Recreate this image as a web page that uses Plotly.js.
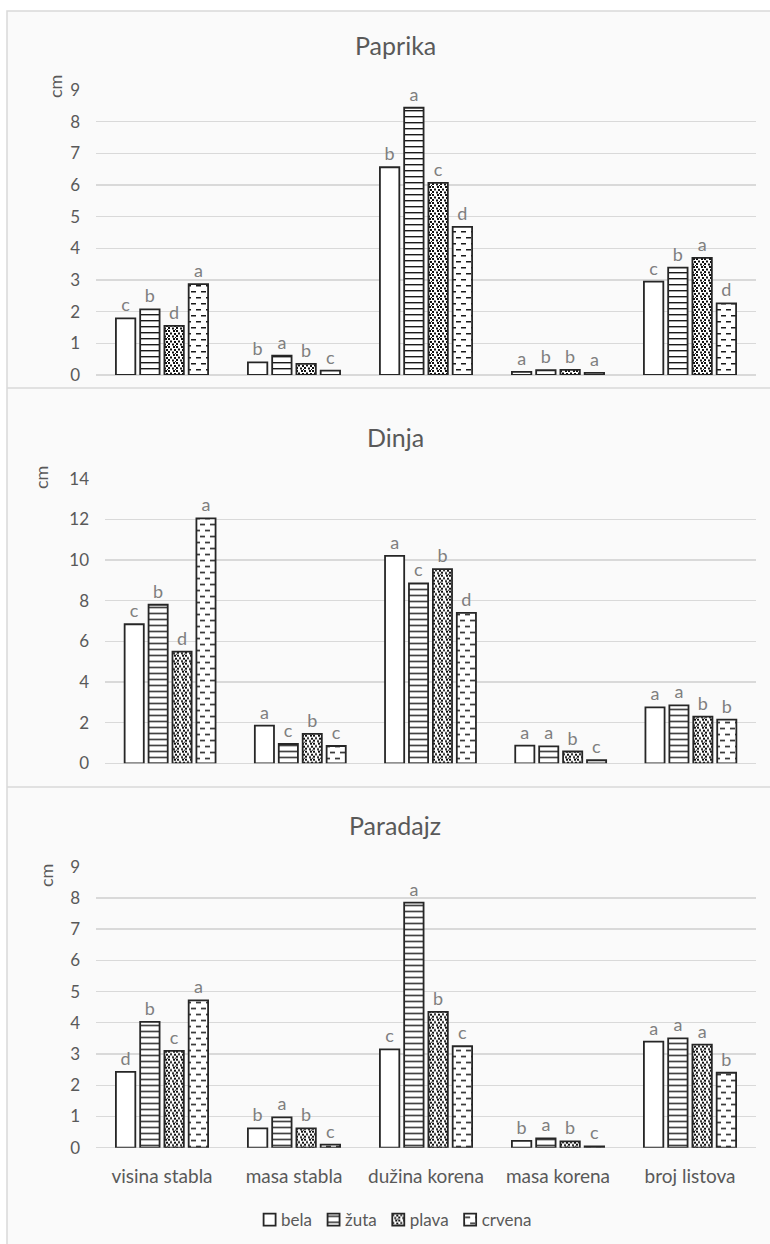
<!DOCTYPE html>
<html>
<head>
<meta charset="utf-8">
<script src="https://cdn.plot.ly/plotly-3.0.1.min.js"></script>
<style>
  html, body { margin: 0; padding: 0; background: #ffffff; }
  #chart { width: 770px; height: 1244px; }
</style>
</head>
<body>
<svg width="0" height="0" style="position:absolute">
  <defs>
    <pattern id="pH" patternUnits="userSpaceOnUse" width="6" height="6">
      <rect x="0" y="0" width="6" height="6" fill="#ffffff"/>
      <rect x="0" y="2" width="6" height="1.4" fill="#1a1a1a"/>
    </pattern>
    <pattern id="pD" patternUnits="userSpaceOnUse" width="8" height="8">
      <rect x="0" y="0" width="8" height="8" fill="#ffffff"/>
      <rect x="0" y="0" width="2" height="2" fill="#111"/>
      <rect x="5" y="0" width="2" height="2" fill="#111"/>
      <rect x="2" y="2.5" width="2" height="2" fill="#111"/>
      <rect x="6" y="3" width="2" height="2" fill="#111"/>
      <rect x="0" y="5" width="2" height="2" fill="#111"/>
      <rect x="4" y="5.5" width="2" height="2" fill="#111"/>
      <rect x="7" y="7" width="1" height="1" fill="#111"/>
    </pattern>
    <pattern id="pS" patternUnits="userSpaceOnUse" width="10" height="12">
      <rect x="0" y="0" width="10" height="12" fill="#ffffff"/>
      <rect x="0" y="3" width="5" height="1.5" fill="#1a1a1a"/>
      <rect x="5" y="9" width="5" height="1.5" fill="#1a1a1a"/>
    </pattern>
  </defs>
</svg>
<div id="chart"></div>
<script>
// ---- data ----
const categories = ['visina stabla', 'masa stabla', 'dužina korena', 'masa korena', 'broj listova'];
const seriesNames = ['bela', 'žuta', 'plava', 'crvena'];
const panelTitles = ['Paprika', 'Dinja', 'Paradajz'];
const yUnit = 'cm';

const paprikaBela   = [1.79, 0.40, 6.56, 0.10, 2.95];
const paprikaZuta   = [2.07, 0.61, 8.44, 0.15, 3.39];
const paprikaPlava  = [1.55, 0.35, 6.07, 0.16, 3.70];
const paprikaCrvena = [2.87, 0.14, 4.68, 0.07, 2.26];
const paprikaBelaLet   = ['c', 'b', 'b', 'a', 'c'];
const paprikaZutaLet   = ['b', 'a', 'a', 'b', 'b'];
const paprikaPlavaLet  = ['d', 'b', 'c', 'b', 'a'];
const paprikaCrvenaLet = ['a', 'c', 'd', 'a', 'd'];

const dinjaBela   = [6.84, 1.85, 10.20, 0.87, 2.75];
const dinjaZuta   = [7.80, 0.95, 8.85, 0.83, 2.85];
const dinjaPlava  = [5.49, 1.45, 9.55, 0.58, 2.30];
const dinjaCrvena = [12.05, 0.85, 7.40, 0.15, 2.15];
const dinjaBelaLet   = ['c', 'a', 'a', 'a', 'a'];
const dinjaZutaLet   = ['b', 'c', 'c', 'a', 'a'];
const dinjaPlavaLet  = ['d', 'b', 'b', 'b', 'b'];
const dinjaCrvenaLet = ['a', 'c', 'd', 'c', 'b'];

const paradajzBela   = [2.43, 0.62, 3.15, 0.22, 3.40];
const paradajzZuta   = [4.03, 0.97, 7.85, 0.30, 3.50];
const paradajzPlava  = [3.10, 0.62, 4.35, 0.20, 3.30];
const paradajzCrvena = [4.72, 0.10, 3.25, 0.04, 2.40];
const paradajzBelaLet   = ['d', 'b', 'c', 'b', 'a'];
const paradajzZutaLet   = ['b', 'a', 'a', 'a', 'a'];
const paradajzPlavaLet  = ['c', 'b', 'b', 'b', 'a'];
const paradajzCrvenaLet = ['a', 'c', 'c', 'c', 'b'];

const yMax = [9, 14, 9];
const yDtick = [1, 2, 1];

// ---- build ----
const panels = [
  { vals: [paprikaBela, paprikaZuta, paprikaPlava, paprikaCrvena],
    lets: [paprikaBelaLet, paprikaZutaLet, paprikaPlavaLet, paprikaCrvenaLet] },
  { vals: [dinjaBela, dinjaZuta, dinjaPlava, dinjaCrvena],
    lets: [dinjaBelaLet, dinjaZutaLet, dinjaPlavaLet, dinjaCrvenaLet] },
  { vals: [paradajzBela, paradajzZuta, paradajzPlava, paradajzCrvena],
    lets: [paradajzBelaLet, paradajzZutaLet, paradajzPlavaLet, paradajzCrvenaLet] }
];

// marker tag colours, replaced by SVG patterns after render
const tagColors = ['rgb(255, 255, 255)', 'rgb(255, 255, 253)', 'rgb(255, 255, 252)', 'rgb(255, 255, 251)'];
const patternFor = { 'rgb(255, 255, 253)': 'url(#pH)', 'rgb(255, 255, 252)': 'url(#pD)', 'rgb(255, 255, 251)': 'url(#pS)' };

const FONT = 'Lato, "Liberation Sans", sans-serif';
const TXT = '#595959';
const W = 770, H = 1244;
const px = v => v / W;
const py = v => 1 - v / H;

const data = [];
panels.forEach((p, pi) => {
  const sfx = pi === 0 ? '' : String(pi + 1);
  seriesNames.forEach((name, si) => {
    data.push({
      type: 'bar',
      name: name,
      x: categories,
      y: p.vals[si],
      text: p.lets[si],
      textposition: 'outside',
      constraintext: 'none',
      cliponaxis: false,
      textfont: { family: FONT, size: 18, color: '#7f7f7f' },
      marker: { color: tagColors[si], line: { color: '#262626', width: 1.8 } },
      xaxis: 'x' + sfx,
      yaxis: 'y' + sfx,
      legendgroup: name,
      showlegend: pi === 0,
      hoverinfo: 'skip'
    });
  });
});

const xDomains = [[px(96), px(756)], [px(105), px(756)], [px(96), px(756)]];
const yDomains = [[py(375), py(90)], [py(763.3), py(478.7)], [py(1147.7), py(866.7)]];
const titleY = [45, 437, 825];
const cmPos = [[55, 87], [41, 478], [46, 876]];

const layout = {
  width: W, height: H, autosize: false,
  margin: { l: 0, r: 0, t: 0, b: 0 },
  paper_bgcolor: '#ffffff',
  plot_bgcolor: 'rgba(0,0,0,0)',
  barmode: 'group',
  bargap: 0.265,
  bargroupgap: 0.2,
  font: { family: FONT, color: TXT },
  showlegend: true,
  legend: {
    orientation: 'h', x: px(398), xanchor: 'center', y: py(1220), yanchor: 'middle',
    font: { family: FONT, size: 17, color: TXT }, bgcolor: 'rgba(0,0,0,0)',
    itemwidth: 30, traceorder: 'normal'
  },
  shapes: [
    { type: 'rect', xref: 'paper', yref: 'paper', x0: px(7), x1: 1.05, y0: -0.05, y1: py(11),
      fillcolor: '#fafafa', line: { color: '#d9d9d9', width: 1.5 }, layer: 'below' },
    { type: 'line', xref: 'paper', yref: 'paper', x0: px(7), x1: 1.05, y0: py(388), y1: py(388),
      line: { color: '#d9d9d9', width: 1.5 }, layer: 'below' },
    { type: 'line', xref: 'paper', yref: 'paper', x0: px(7), x1: 1.05, y0: py(787), y1: py(787),
      line: { color: '#d9d9d9', width: 1.5 }, layer: 'below' }
  ],
  annotations: [],
  hovermode: false
};

panels.forEach((p, pi) => {
  const sfx = pi === 0 ? '' : String(pi + 1);
  layout['xaxis' + sfx] = {
    domain: xDomains[pi], anchor: 'y' + sfx,
    showgrid: false, showline: false, zeroline: false, ticks: '',
    showticklabels: pi === 2,
    tickfont: { family: FONT, size: 19, color: TXT },
    ticklabelstandoff: 15,
    fixedrange: true
  };
  layout['yaxis' + sfx] = {
    domain: yDomains[pi], anchor: 'x' + sfx,
    range: [0, yMax[pi]], dtick: yDtick[pi], tick0: 0,
    showgrid: true, gridcolor: '#d9d9d9', gridwidth: 1.3,
    zeroline: true, zerolinecolor: '#d9d9d9', zerolinewidth: 1.3,
    showline: false, ticks: '',
    tickfont: { family: FONT, size: 17, color: TXT },
    ticklabelstandoff: 15,
    fixedrange: true
  };
  layout.annotations.push({
    xref: 'paper', yref: 'paper', x: px(395), y: py(titleY[pi]),
    xanchor: 'center', yanchor: 'middle', showarrow: false,
    text: panelTitles[pi], font: { family: FONT, size: 25, color: TXT }
  });
  layout.annotations.push({
    xref: 'paper', yref: 'paper', x: px(cmPos[pi][0]), y: py(cmPos[pi][1]),
    xanchor: 'center', yanchor: 'middle', showarrow: false, textangle: -90,
    text: yUnit, font: { family: FONT, size: 18, color: TXT }
  });
});

Plotly.newPlot('chart', data, layout, { displayModeBar: false, staticPlot: true }).then(gd => {
  // swap tag colours for hatch patterns (bars and legend symbols)
  gd.querySelectorAll('path').forEach(el => {
    const f = el.style.fill;
    if (patternFor[f]) el.style.fill = patternFor[f];
  });
  // tighten legend: text closer to symbol, compact spacing, recentred
  const items = Array.from(gd.querySelectorAll('.legend .traces'));
  if (!items.length) return;
  const TEXT_X = 31.5, AFTER = 21.5;
  let x = null, ty0 = 0;
  items.forEach(t => {
    const m = /translate\(\s*([-\d.e]+)[ ,]+([-\d.e]+)\s*\)/.exec(t.getAttribute('transform') || '');
    const tx = m ? +m[1] : 0, ty = m ? +m[2] : 0;
    if (x === null) { x = tx; ty0 = ty; }
    t.setAttribute('transform', 'translate(' + x + ',' + ty + ')');
    const txt = t.querySelector('text.legendtext');
    txt.setAttribute('x', TEXT_X);
    x += TEXT_X + txt.getComputedTextLength() + AFTER - 20;
  });
  // recentre on x = 397.5 using actual drawn extent
  const first = items[0].querySelector('.legendpoints path');
  const lastTxt = items[items.length - 1].querySelector('text.legendtext');
  const left = first.getBoundingClientRect().left;
  const right = lastTxt.getBoundingClientRect().right;
  const shift = 397.5 - (left + right) / 2;
  items.forEach(t => {
    const m = /translate\(\s*([-\d.e]+)[ ,]+([-\d.e]+)\s*\)/.exec(t.getAttribute('transform'));
    t.setAttribute('transform', 'translate(' + (+m[1] + shift) + ',' + (+m[2]) + ')');
  });
});
</script>
</body>
</html>
